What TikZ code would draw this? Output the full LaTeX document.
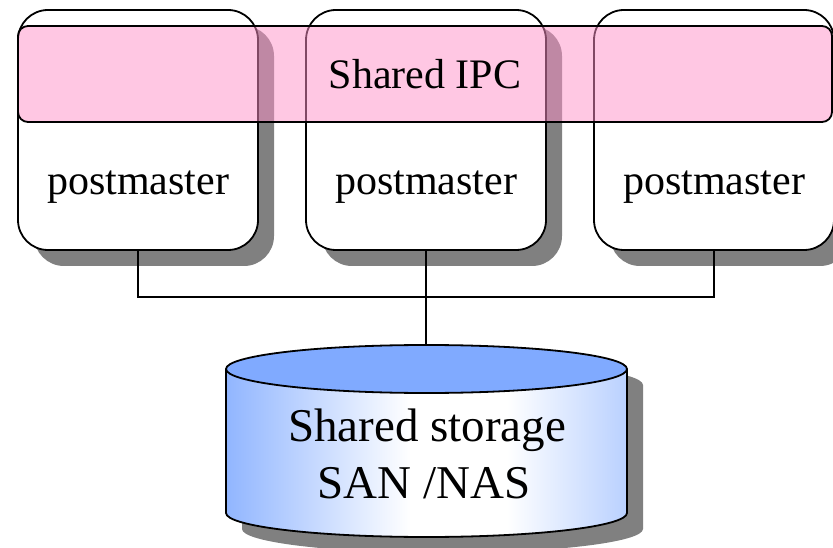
\documentclass[tikz,border=0pt]{standalone}
\usepackage{fontspec}
\setmainfont{Liberation Serif}
\usetikzlibrary{shadows}
\definecolor{cylblue}{RGB}{102,153,255}
\definecolor{cyltop}{RGB}{128,170,255}
\definecolor{ipcpink}{RGB}{255,145,200}
\definecolor{shadowgray}{RGB}{128,128,128}
\pgfdeclarehorizontalshading{cylshade}{100bp}{color(0bp)=(cylblue); color(16bp)=(cylblue); color(48bp)=(white); color(60bp)=(white); color(93bp)=(cylblue); color(100bp)=(cylblue)}
\tikzset{
  pmbox/.style={draw=black, line width=1.8pt, fill=white, rounded corners=30pt,
    minimum width=240pt, minimum height=240pt, inner sep=0pt,
    drop shadow={shadow xshift=16pt, shadow yshift=-16pt, fill=shadowgray, opacity=1}},
  ipcband/.style={draw=black, line width=1.8pt, fill=ipcpink, fill opacity=0.5, draw opacity=1,
    rounded corners=10pt, minimum width=814pt, minimum height=96pt, inner sep=0pt},
  bigtext/.style={font=\fontsize{42}{50}\selectfont, anchor=base, inner sep=0pt},
  stortext/.style={font=\fontsize{47}{57}\selectfont, anchor=base, inner sep=0pt},
  conn/.style={draw=black, line width=1.5pt}
}
\begin{document}
\begin{tikzpicture}[x=1pt, y=-1pt]
\useasboundingbox (0,0) rectangle (833,548);
% postmaster boxes
\node[pmbox] (b1) at (138,130) {};
\node[pmbox] (b2) at (426,130) {};
\node[pmbox] (b3) at (714,130) {};
% shared IPC band
\node[ipcband] (ipc) at (425,74) {};
\node[bigtext] (ipct) at (425,89) {Shared IPC};
\node[bigtext] (t1) at (138,195) {postmaster};
\node[bigtext] (t2) at (426,195) {postmaster};
\node[bigtext] (t3) at (714,195) {postmaster};
% connectors
\coordinate (j) at (426,297);
\coordinate (cyltopc) at (426,345);
\draw[conn] (b1.south) |- (j) -| (b3.south);
\draw[conn] (b2.south) -- (cyltopc);
% cylinder shadow
\fill[shadowgray] (242,385) -- (242,529) arc[start angle=180, end angle=360, x radius=200.5pt, y radius=24pt]
  -- (643,385) arc[start angle=0, end angle=180, x radius=200.5pt, y radius=24pt] -- cycle;
% cylinder body
\shade[shading=cylshade] (226,369) -- (226,513) arc[start angle=180, end angle=360, x radius=200.5pt, y radius=24pt]
  -- (627,369) -- cycle;
\draw[line width=1.8pt] (226,369) -- (226,513) arc[start angle=180, end angle=360, x radius=200.5pt, y radius=24pt]
  -- (627,369);
\draw[line width=1.8pt, fill=cyltop] (426.5,369) ellipse [x radius=200.5pt, y radius=24pt];
\node[stortext] (s1) at (427,441) {Shared storage};
\node[stortext] (s2) at (424,498) {SAN /NAS};
\end{tikzpicture}
\end{document}
